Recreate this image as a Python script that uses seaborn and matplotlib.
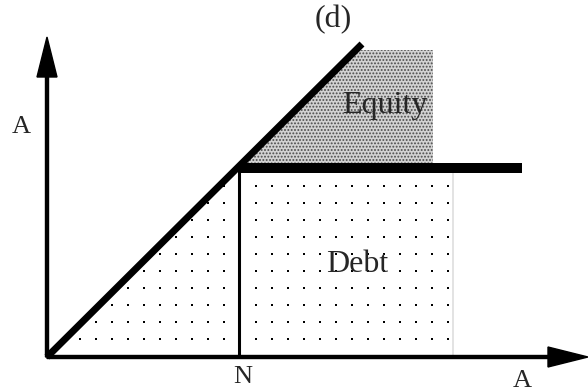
import numpy as np
import matplotlib
matplotlib.use("Agg")
import matplotlib.pyplot as plt
import seaborn as sns
from matplotlib.patches import Polygon

# ---- diagram values (asset value units) ----
face_value_N = 192            # N on the asset axis
debt_cap = 189                # payoff level at which debt is capped
asset_line_x = [0, 315]       # firm value line (45 degrees)
asset_line_y = [0, 313]
debt_cap_x = [192, 475]       # horizontal debt cap line
debt_cap_y = [189, 189]
equity_top = 307              # top of the equity shaded area
equity_right = 386            # right edge of the equity shaded area
debt_right = 406              # right edge of the debt shaded area
axis_x_max = 541
axis_y_max = 320

sns.set_theme(style="white")
plt.rcParams["font.family"] = ["Liberation Serif", "DejaVu Serif"]

fig = plt.figure(figsize=(5.88, 3.92), dpi=100)
ax = fig.add_axes([0, 0, 1, 1])
ax.set_xlim(-47, 541)
ax.set_ylim(-35, 357)
ax.axis("off")

# debt area (sparse dots)
debt_poly = Polygon([(0, 0), (debt_cap, debt_cap), (debt_right, debt_cap), (debt_right, 0)],
                    closed=True, facecolor="white", edgecolor="#d8d8d8", linewidth=1, zorder=1)
ax.add_patch(debt_poly)
gx, gy = np.meshgrid(np.arange(1, debt_right, 16), np.arange(1, debt_cap, 17))
dots = ax.scatter(gx.ravel(), gy.ravel(), s=2.6, color="black", marker="s", linewidths=0, zorder=2)
dots.set_clip_path(debt_poly)

# equity area (fine gray stipple)
plt.rcParams["hatch.linewidth"] = 0.9
eq_poly = Polygon([(debt_cap, debt_cap), (equity_top, equity_top), (equity_right, equity_top),
                   (equity_right, debt_cap)], closed=True, facecolor="#d2d2d2",
                  edgecolor="#4a4a4a", hatch=".....", linewidth=0, zorder=1)
ax.add_patch(eq_poly)

# axes arrows
ax.arrow(0, 0, axis_x_max, 0, width=3, head_width=20, head_length=40,
         length_includes_head=True, color="black", zorder=5)
ax.arrow(0, 0, 0, axis_y_max, width=3, head_width=20, head_length=40,
         length_includes_head=True, color="black", zorder=5)

# payoff lines
sns.lineplot(x=asset_line_x, y=asset_line_y, ax=ax, color="black", linewidth=5.0,
             estimator=None, sort=False, zorder=4)
sns.lineplot(x=debt_cap_x, y=debt_cap_y, ax=ax, color="black", linewidth=7.2,
             estimator=None, sort=False, zorder=4)
sns.lineplot(x=[face_value_N, face_value_N], y=[0, debt_cap], ax=ax, color="black",
             linewidth=2.2, estimator=None, sort=False, zorder=4)
for l in ax.get_lines():
    l.set_solid_capstyle("butt")

# labels
ax.text(286, 337, "(d)", fontsize=23, ha="center", va="center")
ax.text(338, 252, "Equity", fontsize=23, ha="center", va="center", zorder=6)
ax.text(310, 92, "Debt", fontsize=23, ha="center", va="center", zorder=6)
ax.text(-26, 230, "A", fontsize=19, ha="center", va="center")
ax.text(face_value_N + 4, -20, "N", fontsize=19, ha="center", va="center")
ax.text(475, -30, "A", fontsize=19, ha="center", va="baseline")

fig.savefig("out.png", dpi=100, facecolor="white")
